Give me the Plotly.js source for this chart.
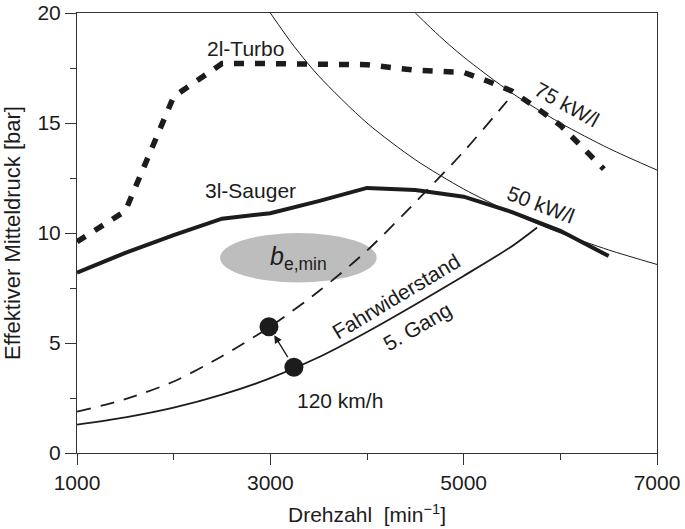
<!DOCTYPE html>
<html>
<head>
<meta charset="utf-8">
<script src="https://cdn.plot.ly/plotly-3.0.1.min.js"></script>
<style>html,body{margin:0;padding:0;background:#fff;}#chart{width:685px;height:529px;}</style>
</head>
<body>
<div id="chart"></div>
<script>
// ---- data ----
const turboX = [1000, 1500, 2000, 2500, 3000, 3500, 4000, 4500, 5000, 5250, 5500, 5750, 6000, 6250, 6450];
const turboY = [9.6, 11.0, 16.2, 17.7, 17.7, 17.7, 17.65, 17.4, 17.3, 16.9, 16.45, 15.7, 14.9, 13.8, 12.9];

const saugerX = [1000, 1500, 2000, 2500, 3000, 3500, 4000, 4500, 5000, 5500, 6000, 6500];
const saugerY = [8.2, 9.1, 9.9, 10.65, 10.9, 11.45, 12.05, 11.95, 11.65, 10.95, 10.1, 8.95];

const kw50X = [3000, 3250, 3500, 4000, 4500, 5000, 5500, 6000, 6500, 7000];
const kw50Y = [20, 18.46, 17.14, 15, 13.33, 12, 10.91, 10, 9.23, 8.57];

const kw75X = [4500, 4750, 5000, 5500, 6000, 6500, 7000];
const kw75Y = [20, 18.95, 18, 16.36, 15, 13.85, 12.86];

const fahrX = [1000, 1500, 2000, 2500, 3000, 3500, 4000, 4500, 5000, 5500, 5760];
const fahrY = [1.29, 1.62, 2.06, 2.65, 3.4, 4.35, 5.5, 6.75, 8.05, 9.4, 10.25];

const dashX = [1000, 1500, 2000, 2500, 3000, 3500, 4000, 4500, 5000, 5450];
const dashY = [1.88, 2.45, 3.25, 4.4, 5.75, 7.35, 9.2, 11.4, 13.7, 16.0];

const pointsX = [3244, 2986];
const pointsY = [3.9, 5.74];

const bemin = {x0: 2480, x1: 4100, y0: 7.75, y1: 10.0};

const xTicks = [1000, 3000, 5000, 7000];
const yTicks = [0, 5, 10, 15, 20];

const labels = [
  {text: '2l-Turbo', x: 2740, y: 18.4, angle: 0},
  {text: '3l-Sauger', x: 2790, y: 11.95, angle: 0},
  {text: '75 kW/l', x: 6070, y: 15.85, angle: 29},
  {text: '50 kW/l', x: 5800, y: 11.3, angle: 21},
  {text: 'Fahrwiderstand', x: 4300, y: 7.1, angle: -31},
  {text: '5. Gang', x: 4520, y: 5.75, angle: -30},
  {text: '120 km/h', x: 3720, y: 2.4, angle: 0},
  {text: '<i>b</i><sub>e,min</sub>', x: 3290, y: 8.85, angle: 0, size: 25}
];

// ---- chart ----
const FONT = 'Liberation Sans, Arial, Helvetica, sans-serif';
const INK = '#1c1c1c';

const traces = [
  {x: kw50X, y: kw50Y, mode: 'lines', line: {color: INK, width: 1, shape: 'spline', smoothing: 0.8}, hoverinfo: 'skip'},
  {x: kw75X, y: kw75Y, mode: 'lines', line: {color: INK, width: 1, shape: 'spline', smoothing: 0.8}, hoverinfo: 'skip'},
  {x: fahrX, y: fahrY, mode: 'lines', line: {color: INK, width: 1.8, shape: 'spline', smoothing: 0.8}},
  {x: dashX, y: dashY, mode: 'lines', line: {color: INK, width: 1.8, dash: '14px,10px', shape: 'spline', smoothing: 0.8}},
  {x: saugerX, y: saugerY, mode: 'lines', line: {color: INK, width: 4}},
  {x: turboX, y: turboY, mode: 'lines', line: {color: INK, width: 5.5, dash: '10px,11px'}},
  {x: pointsX, y: pointsY, mode: 'markers', marker: {color: INK, size: 19}}
];

const annotations = labels.map(l => ({
  text: l.text, x: l.x, y: l.y, xref: 'x', yref: 'y', showarrow: false,
  textangle: l.angle, font: {family: FONT, size: l.size || 21, color: INK}
}));
annotations.push({
  x: pointsX[1], y: pointsY[1], ax: pointsX[0], ay: pointsY[0],
  xref: 'x', yref: 'y', axref: 'x', ayref: 'y', text: '', showarrow: true,
  arrowhead: 2, arrowsize: 1.2, arrowwidth: 1.3, arrowcolor: INK,
  standoff: 10, startstandoff: 10
});

const layout = {
  width: 685, height: 529,
  margin: {l: 77, r: 28, t: 13, b: 76},
  paper_bgcolor: '#fff', plot_bgcolor: '#fff',
  showlegend: false,
  font: {family: FONT, size: 21, color: INK},
  xaxis: {
    range: [1000, 7000], tickvals: xTicks, ticktext: xTicks.map(String),
    ticks: 'outside', ticklen: 11, tickcolor: '#333', tickwidth: 1,
    minor: {dtick: 1000, tick0: 1000, ticks: 'outside', ticklen: 6, tickcolor: '#333'},
    showline: true, linecolor: '#333', linewidth: 1, mirror: true,
    showgrid: false, zeroline: false,
    tickfont: {family: FONT, size: 21, color: INK},
    title: {text: 'Drehzahl  [min<sup>\u22121</sup>]', font: {family: FONT, size: 21, color: INK}, standoff: 14}
  },
  yaxis: {
    range: [0, 20], tickvals: yTicks, ticktext: yTicks.map(String),
    ticks: 'outside', ticklen: 11, tickcolor: '#333', tickwidth: 1,
    minor: {dtick: 2.5, tick0: 0, ticks: 'outside', ticklen: 6, tickcolor: '#333'},
    showline: true, linecolor: '#333', linewidth: 1, mirror: true,
    showgrid: false, zeroline: false,
    tickfont: {family: FONT, size: 21, color: INK},
    title: {text: 'Effektiver Mitteldruck [bar]', font: {family: FONT, size: 22, color: INK}, standoff: 10}
  },
  shapes: [{
    type: 'circle', xref: 'x', yref: 'y',
    x0: bemin.x0, x1: bemin.x1, y0: bemin.y0, y1: bemin.y1,
    fillcolor: '#bdbdbd', line: {width: 0}, layer: 'below'
  }],
  annotations: annotations
};

Plotly.newPlot('chart', traces, layout, {staticPlot: true, displayModeBar: false});
</script>
</body>
</html>
